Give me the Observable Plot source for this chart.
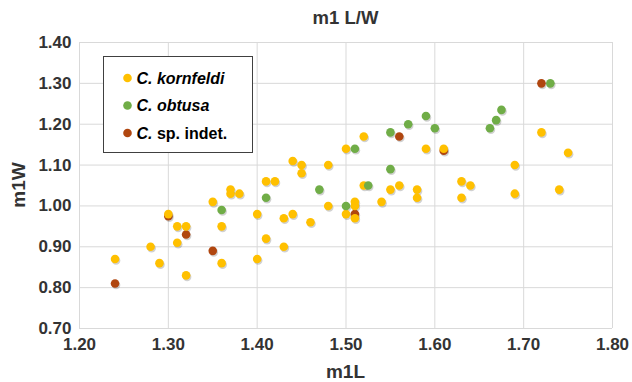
<!DOCTYPE html>
<html>
<head>
<meta charset="utf-8">
<script src="https://cdn.jsdelivr.net/npm/d3@7"></script>
<script src="https://cdn.jsdelivr.net/npm/@observablehq/plot@0.6"></script>
<style>
  html, body { margin: 0; padding: 0; background: #fff; }
  body { width: 632px; height: 382px; overflow: hidden; }
</style>
</head>
<body>
<div id="chart"></div>
<script>
// ---- data ----
const seriesNames = ["C. kornfeldi", "C. obtusa", "C. sp. indet."];
const seriesColors = ["#FFC000", "#70AD47", "#B0460F"];

const kornfeldiL = [1.24, 1.28, 1.29, 1.30, 1.31, 1.32, 1.31, 1.32, 1.35, 1.36, 1.36, 1.37, 1.37, 1.38, 1.40, 1.40, 1.41, 1.41, 1.42, 1.43, 1.43, 1.44, 1.44, 1.45, 1.45, 1.46, 1.48, 1.48, 1.50, 1.50, 1.51, 1.51, 1.51, 1.52, 1.52, 1.54, 1.55, 1.56, 1.58, 1.58, 1.59, 1.61, 1.63, 1.63, 1.64, 1.69, 1.69, 1.72, 1.74, 1.75];
const kornfeldiW = [0.87, 0.90, 0.86, 0.98, 0.95, 0.95, 0.91, 0.83, 1.01, 0.95, 0.86, 1.04, 1.03, 1.03, 0.98, 0.87, 1.06, 0.92, 1.06, 0.97, 0.90, 1.11, 0.98, 1.10, 1.08, 0.96, 1.10, 1.00, 1.14, 0.98, 1.01, 1.00, 0.97, 1.17, 1.05, 1.01, 1.04, 1.05, 1.04, 1.02, 1.14, 1.14, 1.06, 1.02, 1.05, 1.10, 1.03, 1.18, 1.04, 1.13];

const obtusaL = [1.36, 1.41, 1.47, 1.50, 1.51, 1.525, 1.55, 1.55, 1.57, 1.59, 1.60, 1.662, 1.669, 1.675, 1.73];
const obtusaW = [0.99, 1.02, 1.04, 1.00, 1.14, 1.05, 1.18, 1.09, 1.20, 1.22, 1.19, 1.19, 1.21, 1.235, 1.30];

const indetL = [1.24, 1.30, 1.32, 1.35, 1.51, 1.56, 1.61, 1.72];
const indetW = [0.81, 0.975, 0.93, 0.89, 0.98, 1.17, 1.135, 1.30];

const xTicks = [1.20, 1.30, 1.40, 1.50, 1.60, 1.70, 1.80];
const yTicks = [0.70, 0.80, 0.90, 1.00, 1.10, 1.20, 1.30, 1.40];

// ---- table (draw order: sp. indet. first, then kornfeldi, then obtusa) ----
const rows = [];
indetL.forEach((v, i) => rows.push({L: v, W: indetW[i], s: seriesNames[2]}));
kornfeldiL.forEach((v, i) => rows.push({L: v, W: kornfeldiW[i], s: seriesNames[0]}));
obtusaL.forEach((v, i) => rows.push({L: v, W: obtusaW[i], s: seriesNames[1]}));

const W = 632, H = 382;
const mL = 79, mR = 20, mT = 42, mB = 54;
const FONT = "'Liberation Sans', Arial, sans-serif";
const TXT = "#333333";

const plot = Plot.plot({
  width: W,
  height: H,
  marginLeft: mL,
  marginRight: mR,
  marginTop: mT,
  marginBottom: mB,
  style: {fontFamily: FONT, background: "#fff", overflow: "visible"},
  x: {domain: [1.2, 1.8], ticks: xTicks},
  y: {domain: [0.7, 1.4], ticks: yTicks},
  color: {domain: seriesNames, range: seriesColors},
  marks: [
    Plot.gridX(xTicks, {stroke: "#d9d9d9", strokeOpacity: 1, strokeWidth: 1}),
    Plot.gridY(yTicks, {stroke: "#d9d9d9", strokeOpacity: 1, strokeWidth: 1}),
    Plot.axisX(xTicks, {tickSize: 0, tickPadding: 9, fontSize: 17, fill: TXT, tickFormat: d3.format(".2f"), label: null}),
    Plot.axisY(yTicks, {tickSize: 0, tickPadding: 8, fontSize: 17, fill: TXT, tickFormat: d3.format(".2f"), label: null}),
    Plot.dot(rows, {x: "L", y: "W", r: 4.3, fill: "#000", fillOpacity: 0.18, dx: 1, dy: 1.5, stroke: null}),
    Plot.dot(rows, {x: "L", y: "W", r: 4.3, fill: "s", stroke: null})
  ]
});

document.getElementById("chart").appendChild(plot);

const svg = d3.select(plot);
// bold tick labels (all texts present so far are axis tick labels)
svg.selectAll("text").attr("font-weight", "bold").style("font-weight", "bold");

// ---- titles and legend ----
const cx = mL + (W - mL - mR) / 2;

svg.append("text")
  .attr("x", cx).attr("y", 24)
  .attr("text-anchor", "middle")
  .attr("font-family", FONT).attr("font-weight", "bold").attr("font-size", 18.5)
  .attr("fill", TXT)
  .text("m1 L/W");

svg.append("text")
  .attr("x", cx).attr("y", 378)
  .attr("text-anchor", "middle")
  .attr("font-family", FONT).attr("font-weight", "bold").attr("font-size", 19)
  .attr("fill", TXT)
  .text("m1L");

svg.append("text")
  .attr("transform", `translate(25, ${mT + (H - mT - mB) / 2}) rotate(-90)`)
  .attr("text-anchor", "middle")
  .attr("font-family", FONT).attr("font-weight", "bold").attr("font-size", 19)
  .attr("fill", TXT)
  .text("m1W");

const lg = svg.append("g");
lg.append("rect")
  .attr("x", 103.5).attr("y", 56.5).attr("width", 149).attr("height", 96)
  .attr("fill", "#fff").attr("stroke", "#404040").attr("stroke-width", 1);

const legendRows = [
  {lead: "C.", rest: " kornfeldi", italicRest: true},
  {lead: "C.", rest: " obtusa", italicRest: true},
  {lead: "C.", rest: " sp. indet.", italicRest: false}
];
const ly = [78, 105.5, 133];
legendRows.forEach((r, i) => {
  lg.append("circle").attr("cx", 127.5).attr("cy", ly[i]).attr("r", 4.3).attr("fill", seriesColors[i]);
  const t = lg.append("text")
    .attr("x", 136.5).attr("y", ly[i] + 5.8)
    .attr("text-anchor", "start")
    .attr("font-family", FONT).attr("font-weight", "bold").attr("font-size", 16)
    .attr("fill", "#000");
  t.append("tspan").attr("font-style", "italic").text(r.lead);
  t.append("tspan").attr("font-style", r.italicRest ? "italic" : "normal").text(r.rest);
});
</script>
</body>
</html>
